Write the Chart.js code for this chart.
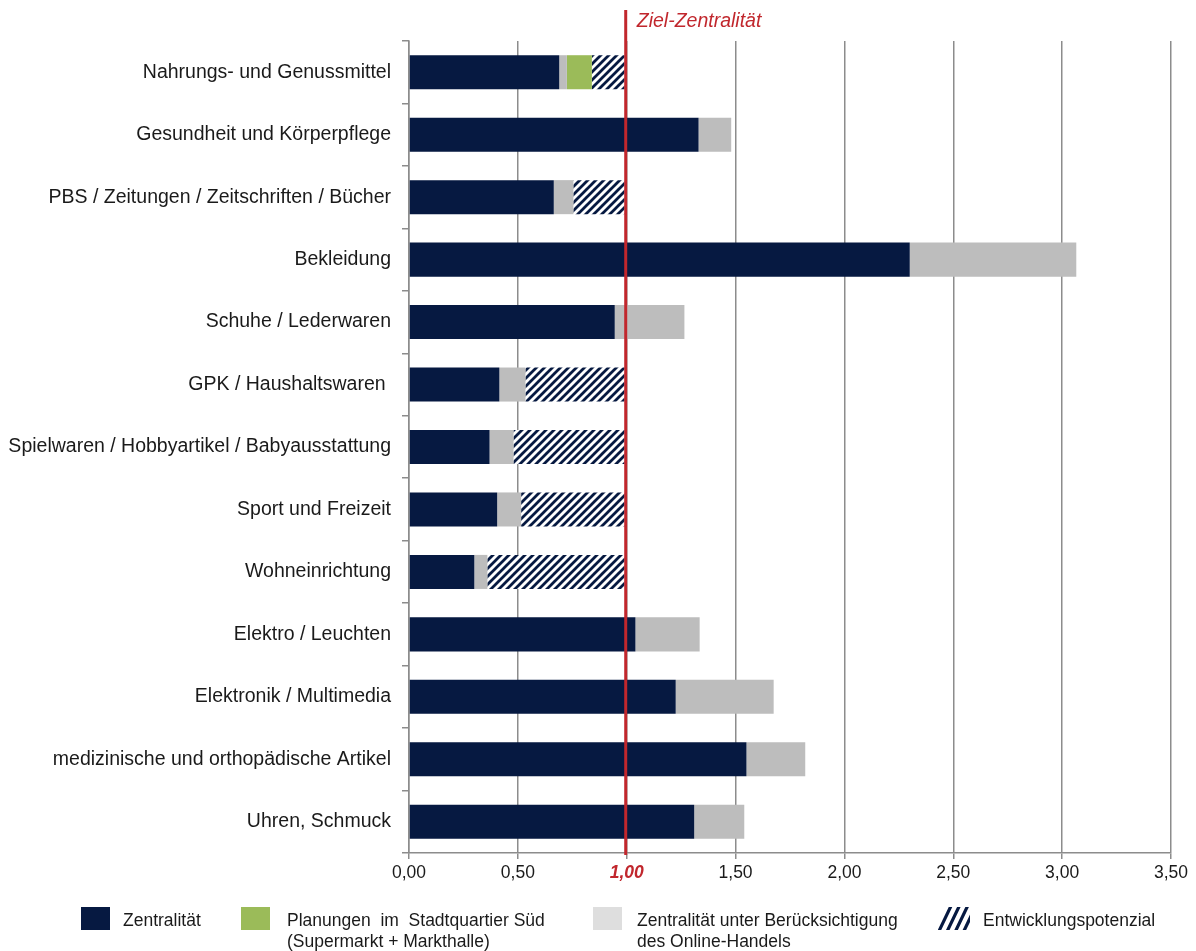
<!DOCTYPE html>
<html lang="de">
<head>
<meta charset="utf-8">
<title>Zentralität nach Sortimenten</title>
<script src="https://cdn.jsdelivr.net/npm/chart.js@4.4.1/dist/chart.umd.min.js"></script>
<style>
    body { margin: 0; background: #ffffff; }
    #chartBox { width: 1196px; height: 951px; }
</style>
</head>
<body>
<div id="chartBox"><canvas id="zentralitaetChart" width="1196" height="951"></canvas></div>
<script>
const categories = [
    "Nahrungs- und Genussmittel",
    "Gesundheit und Körperpflege",
    "PBS / Zeitungen / Zeitschriften / Bücher",
    "Bekleidung",
    "Schuhe / Lederwaren",
    "GPK / Haushaltswaren ",
    "Spielwaren / Hobbyartikel / Babyausstattung",
    "Sport und Freizeit",
    "Wohneinrichtung",
    "Elektro / Leuchten",
    "Elektronik / Multimedia",
    "medizinische und orthopädische Artikel",
    "Uhren, Schmuck"
];

// Werte je Segment (gestapelt, in dieser Reihenfolge)
const zentralitaet = [0.69, 1.33, 0.665, 2.30, 0.945, 0.415, 0.37, 0.405, 0.30, 1.04, 1.225, 1.55, 1.31];
const onlineHandel = [0.035, 0.15, 0.09, 0.765, 0.32, 0.12, 0.11, 0.11, 0.06, 0.295, 0.45, 0.27, 0.23];
const planungenSued = [0.115, 0, 0, 0, 0, 0, 0, 0, 0, 0, 0, 0, 0];
const potenzial = [0.15, 0, 0.235, 0, 0, 0.455, 0.51, 0.475, 0.63, 0, 0, 0, 0];

const xMin = 0;
const xMax = 3.5;
const xStep = 0.5;
const zielZentralitaet = 1.0;

const legendLabels = [
    ["Zentralität"],
    ["Planungen  im  Stadtquartier Süd", "(Supermarkt + Markthalle)"],
    ["Zentralität unter Berücksichtigung", "des Online-Handels"],
    ["Entwicklungspotenzial"]
];

const NAVY = '#061941';
const GREEN = '#9bbb59';
const GREY_BAR = '#bdbdbd';
const GREY_LEGEND = '#dedede';
const RED = '#c1272d';
const AXIS_GREY = '#8c8c8c';
const FONT = '"Liberation Sans", Arial, sans-serif';

function makeHatch(size, width) {
    const c = document.createElement('canvas');
    c.width = size;
    c.height = size;
    const p = c.getContext('2d');
    p.fillStyle = '#ffffff';
    p.fillRect(0, 0, size, size);
    p.strokeStyle = NAVY;
    p.lineWidth = width;
    p.beginPath();
    p.moveTo(-2, size + 2); p.lineTo(size + 2, -2);
    p.moveTo(-2, 2); p.lineTo(2, -2);
    p.moveTo(size - 2, size + 2); p.lineTo(size + 2, size - 2);
    p.stroke();
    return p.createPattern(c, 'repeat');
}

const hatch = makeHatch(8, 2.8);

// rote Ziel-Linie mit Beschriftung
const zielLinie = {
    id: 'zielLinie',
    afterDatasetsDraw(chart) {
        const ctx = chart.ctx;
        const x = chart.scales.x.getPixelForValue(zielZentralitaet) - 1;
        ctx.save();
        ctx.strokeStyle = RED;
        ctx.lineWidth = 3;
        ctx.beginPath();
        ctx.moveTo(x, 10);
        ctx.lineTo(x, chart.chartArea.bottom + 2);
        ctx.stroke();
        ctx.fillStyle = RED;
        ctx.font = 'italic 19.5px ' + FONT;
        ctx.textBaseline = 'middle';
        ctx.fillText('Ziel-Zentralität', x + 11, 22);
        ctx.restore();
    }
};

// Legende unten, zweizeilige Einträge
const legendeUnten = {
    id: 'legendeUnten',
    afterDraw(chart) {
        const ctx = chart.ctx;
        const items = [
            { box: 81, text: 123, fill: NAVY },
            { box: 241, text: 287, fill: GREEN },
            { box: 593, text: 637, fill: GREY_LEGEND },
            { box: 938, text: 983, fill: 'hatch' }
        ];
        ctx.save();
        items.forEach(function(item, i) {
            if (item.fill === 'hatch') {
                ctx.save();
                ctx.beginPath();
                ctx.rect(item.box, 907, 32, 23);
                ctx.clip();
                ctx.strokeStyle = NAVY;
                ctx.lineWidth = 3.2;
                ctx.beginPath();
                for (let k = 0; k < 4; k++) {
                    const x0 = item.box + 1 + k * 8.3;
                    ctx.moveTo(x0, 931);
                    ctx.lineTo(x0 + 12, 906);
                }
                ctx.stroke();
                ctx.restore();
            } else {
                ctx.fillStyle = item.fill;
                ctx.fillRect(item.box, 907, 29, 23);
            }
            ctx.fillStyle = '#1a1a1a';
            ctx.font = '17.5px ' + FONT;
            ctx.textBaseline = 'alphabetic';
            legendLabels[i].forEach(function(line, j) {
                ctx.fillText(line, item.text, 926 + j * 21);
            });
        });
        ctx.restore();
    }
};

const ctx = document.getElementById('zentralitaetChart').getContext('2d');

new Chart(ctx, {
    type: 'bar',
    data: {
        labels: categories,
        datasets: [
            { label: 'Zentralität', data: zentralitaet, backgroundColor: NAVY },
            { label: 'Zentralität unter Berücksichtigung des Online-Handels', data: onlineHandel, backgroundColor: GREY_BAR },
            { label: 'Planungen im Stadtquartier Süd (Supermarkt + Markthalle)', data: planungenSued, backgroundColor: GREEN },
            { label: 'Entwicklungspotenzial', data: potenzial, backgroundColor: hatch }
        ]
    },
    options: {
        indexAxis: 'y',
        responsive: false,
        animation: false,
        datasets: {
            bar: {
                categoryPercentage: 1,
                barPercentage: 0.545,
                borderWidth: 0
            }
        },
        layout: {
            padding: { top: 41, right: 25, bottom: 58, left: 0 }
        },
        scales: {
            x: {
                stacked: true,
                min: xMin,
                max: xMax,
                ticks: {
                    stepSize: xStep,
                    padding: 4,
                    callback: function(value) {
                        return Number(value).toFixed(2).replace('.', ',');
                    },
                    color: function(c) {
                        return c.tick && c.tick.value === zielZentralitaet ? RED : '#1a1a1a';
                    },
                    font: function(c) {
                        if (c.tick && c.tick.value === zielZentralitaet) {
                            return { family: FONT, size: 17.5, weight: 'bold', style: 'italic' };
                        }
                        return { family: FONT, size: 17.5 };
                    }
                },
                grid: {
                    color: AXIS_GREY,
                    lineWidth: 1.5,
                    tickLength: 6
                },
                border: { color: AXIS_GREY, width: 1.5 },
                afterFit: function(scale) { scale.height = 40; }
            },
            y: {
                stacked: true,
                ticks: {
                    color: '#1a1a1a',
                    padding: 11,
                    font: { family: FONT, size: 19.5 }
                },
                grid: {
                    drawOnChartArea: false,
                    color: AXIS_GREY,
                    lineWidth: 1.5,
                    tickLength: 7,
                    offset: true
                },
                border: { color: AXIS_GREY, width: 1.5 },
                afterFit: function(scale) { scale.width = 409; }
            }
        },
        plugins: {
            legend: { display: false },
            tooltip: { enabled: false }
        }
    },
    plugins: [zielLinie, legendeUnten]
});
</script>
</body>
</html>
